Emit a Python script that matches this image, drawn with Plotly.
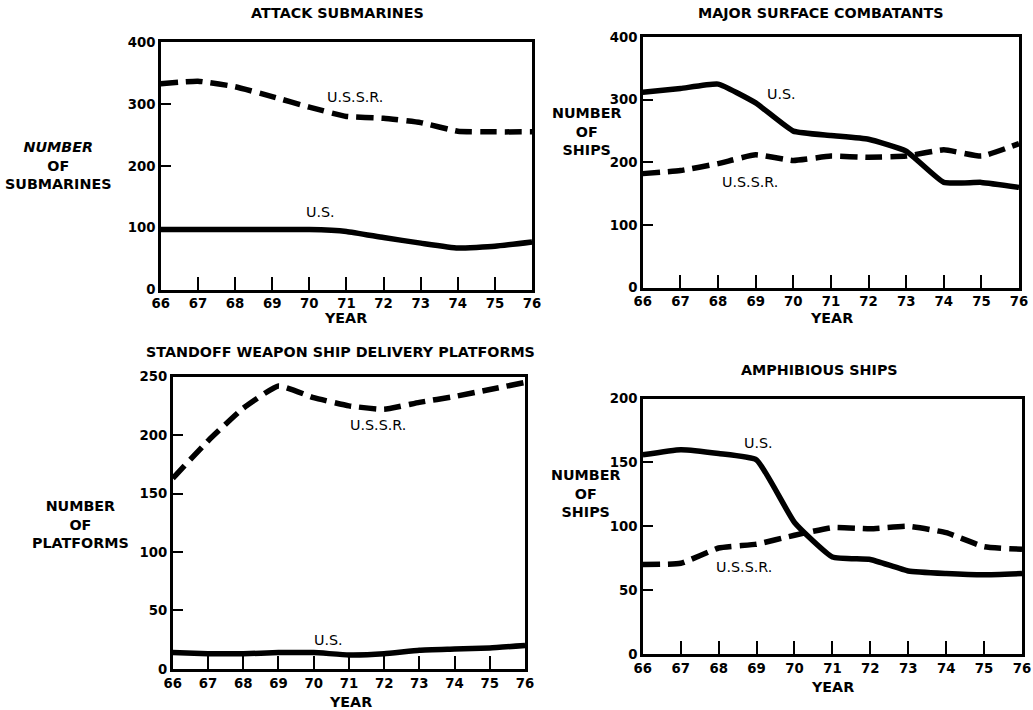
"""
Four-panel comparison of U.S. and U.S.S.R. naval forces, 1966-1976.
"""

import plotly.graph_objects as go

YEARS = [66, 67, 68, 69, 70, 71, 72, 73, 74, 75, 76]
YEAR_LABELS = ['66', '67', '68', '69', '70', '71', '72', '73', '74', '75', '76']

SUB_USSR = [333, 337, 328, 312, 295, 280, 277, 270, 256, 255, 255]
SUB_US = [97, 97, 97, 97, 97, 94, 84, 75, 67, 70, 77]

SURF_US = [312, 318, 325, 295, 250, 243, 237, 218, 168, 168, 160]
SURF_USSR = [182, 187, 198, 212, 203, 210, 208, 210, 220, 210, 230]

STANDOFF_USSR = [163, 195, 223, 242, 232, 225, 222, 228, 233, 239, 245]
STANDOFF_US = [14, 13, 13, 14, 14, 12, 13, 16, 17, 18, 20]

AMPHIB_US = [156, 160, 157, 152, 103, 76, 74, 65, 63, 62, 63]
AMPHIB_USSR = [70, 71, 83, 86, 93, 99, 98, 100, 95, 84, 82]

FONT = 'DejaVu Sans'
# the page is photographed with an 8px border and shrunk to 1033x710,
# so positions are laid out in picture pixels and mapped back here
SX, SY = 1033 / 1049, 710 / 726
PAD = 8
W, H = 1041, 718

# pixel boxes of each panel in the picture: left, right, top, bottom
PANELS = [
    dict(box=(160, 532, 43, 290), ymax=400, dtick=100,
         title='ATTACK SUBMARINES', title_xy=(337, 14),
         ylabel='<i>NUMBER</i><br>OF<br>SUBMARINES', ylabel_xy=(57, 166),
         year_xy=(345, 318),
         us=SUB_US, ussr=SUB_USSR,
         us_lab=(70.3, 125), ussr_lab=(71.24, 312)),
    dict(box=(643, 1020, 38, 288), ymax=400, dtick=100,
         title='MAJOR SURFACE COMBATANTS', title_xy=(822, 14),
         ylabel='NUMBER<br>OF<br>SHIPS', ylabel_xy=(587, 132),
         year_xy=(832, 318),
         us=SURF_US, ussr=SURF_USSR,
         us_lab=(69.69, 309), ussr_lab=(68.84, 168)),
    dict(box=(172, 525, 377, 669), ymax=250, dtick=50,
         title='STANDOFF WEAPON SHIP DELIVERY PLATFORMS', title_xy=(340, 352),
         ylabel='NUMBER<br>OF<br>PLATFORMS', ylabel_xy=(80, 525),
         year_xy=(350, 702),
         us=STANDOFF_US, ussr=STANDOFF_USSR,
         us_lab=(70.41, 25), ussr_lab=(71.82, 209)),
    dict(box=(643, 1023, 399, 654), ymax=200, dtick=50,
         title='AMPHIBIOUS SHIPS', title_xy=(820, 370),
         ylabel='NUMBER<br>OF<br>SHIPS', ylabel_xy=(586, 494),
         year_xy=(833, 687),
         us=AMPHIB_US, ussr=AMPHIB_USSR,
         us_lab=(69.05, 165), ussr_lab=(68.66, 68)),
]


def px(x):
    return (x / SX - PAD) / W


def py(y):
    return 1 - (y / SY - PAD) / H


def paper_text(text, x, y, size=14.3):
    return dict(text='<b>%s</b>' % text, x=px(x), y=py(y),
                xref='paper', yref='paper', showarrow=False,
                xanchor='center', yanchor='middle', align='center',
                font=dict(family=FONT, size=size, color='black'))


def build_figure():
    fig = go.Figure()
    annotations = []
    tick_font = dict(family=FONT, size=13.3, color='black', weight='bold')
    for i, p in enumerate(PANELS):
        n = '' if i == 0 else str(i + 1)
        left, right, top, bottom = p['box']
        xa, ya = 'x' + n, 'y' + n

        # solid U.S. line and dashed U.S.S.R. line
        fig.add_trace(go.Scatter(
            x=YEARS, y=p['us'], xaxis=xa, yaxis=ya, mode='lines',
            line=dict(color='black', width=5.5, shape='spline',
                      smoothing=0.4)))
        fig.add_trace(go.Scatter(
            x=YEARS, y=p['ussr'], xaxis=xa, yaxis=ya, mode='lines',
            line=dict(color='black', width=5.5, dash='17px,8px',
                      shape='spline', smoothing=0.4)))

        fig.layout['xaxis' + n] = dict(
            domain=[px(left), px(right)], anchor=ya, range=[66, 76],
            tickvals=YEARS, ticktext=YEAR_LABELS, ticks='inside',
            ticklen=13, tickwidth=2, tickcolor='black',
            showline=True, linewidth=2.5, linecolor='black', mirror=True,
            showgrid=False, zeroline=False, tickfont=tick_font)
        fig.layout['yaxis' + n] = dict(
            domain=[py(bottom), py(top)], anchor=xa,
            range=[0, p['ymax']], dtick=p['dtick'], ticks='inside',
            ticklen=10, tickwidth=2, tickcolor='black',
            showline=True, linewidth=2.5, linecolor='black', mirror=True,
            showgrid=False, zeroline=False, tickfont=tick_font)

        annotations.append(paper_text(p['title'], *p['title_xy']))
        annotations.append(paper_text(p['ylabel'], *p['ylabel_xy']))
        annotations.append(paper_text('YEAR', *p['year_xy']))
        for lab, pos in (('U.S.', p['us_lab']), ('U.S.S.R.', p['ussr_lab'])):
            annotations.append(dict(
                text=lab, x=pos[0], y=pos[1], xref=xa, yref=ya,
                showarrow=False,
                font=dict(family=FONT, size=14.3, color='black')))

    fig.update_layout(width=W, height=H, showlegend=False,
                      margin=dict(l=0, r=0, t=0, b=0),
                      plot_bgcolor='white', paper_bgcolor='white',
                      annotations=annotations)
    return fig


def main():
    fig = build_figure()
    fig.write_html('out.html', config={'displayModeBar': False},
                   post_script="document.body.style.margin='0';")


if __name__ == '__main__':
    main()
